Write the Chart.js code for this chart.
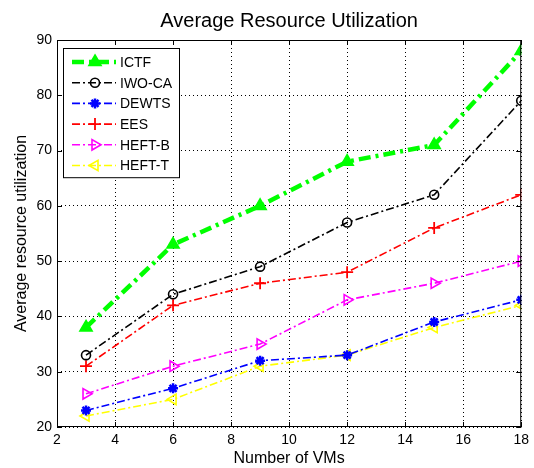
<!DOCTYPE html>
<html>
<head>
<meta charset="utf-8">
<script src="https://cdn.jsdelivr.net/npm/chart.js@4/dist/chart.umd.min.js"></script>
<style>
  html, body { margin: 0; padding: 0; background: #fff; }
  #wrap { width: 534px; height: 468px; }
</style>
</head>
<body>
<div id="wrap"><canvas id="chart" width="534" height="468"></canvas></div>
<script>
const vms = [3, 6, 9, 12, 15, 18];
const xTicks = [2, 4, 6, 8, 10, 12, 14, 16, 18];
const yTicks = [20, 30, 40, 50, 60, 70, 80, 90];

const ictf  = [38, 53, 60, 68, 71, 88];
const iwoca = [33, 44, 49, 57, 62, 79];
const dewts = [23, 27, 32, 33, 39, 43];
const ees   = [31, 42, 46, 48, 56, 62];
const heftB = [26, 31, 35, 43, 46, 50];
const heftT = [22, 25, 31, 33, 38, 42];

const FONT = 'Liberation Sans, Arial, sans-serif';

function series(label, values, color, style) {
  return Object.assign({
    label: label,
    data: values.map((v, i) => ({ x: vms[i], y: v })),
    borderColor: color,
    backgroundColor: 'transparent',
    pointBorderColor: color,
    pointBackgroundColor: 'transparent',
    borderWidth: 1.6,
    borderDash: [8, 3, 2, 3],
    pointRadius: 5,
    pointBorderWidth: 1.6,
    tension: 0,
    fill: false
  }, style);
}

const datasets = [
  series('ICTF', ictf, '#00ff00', { borderWidth: 4.5, borderDash: [12, 5, 3, 5], pointStyle: 'triangle', pointRadius: 7, pointBackgroundColor: '#00ff00' }),
  series('IWO-CA', iwoca, '#000000', { pointStyle: 'circle', pointRadius: 4.5 }),
  series('DEWTS', dewts, '#0000ff', { pointStyle: 'star', pointRadius: 5, pointBorderWidth: 2.5 }),
  series('EES', ees, '#ff0000', { pointStyle: 'cross', pointRadius: 6, pointBorderWidth: 1.8 }),
  series('HEFT-B', heftB, '#ff00ff', { pointStyle: 'triangle', rotation: 90, pointRadius: 6 }),
  series('HEFT-T', heftT, '#ffff00', { pointStyle: 'triangle', rotation: -90, pointRadius: 6 })
];

// frame, inner tick marks and line+marker legend, drawn the MATLAB way
const matlabFrame = {
  id: 'matlabFrame',
  afterDatasetsDraw(chart) {
    const ctx = chart.ctx;
    const a = chart.chartArea;
    const xs = chart.scales.x, ys = chart.scales.y;
    ctx.save();
    ctx.strokeStyle = '#000';
    ctx.lineWidth = 1;
    ctx.setLineDash([]);
    ctx.strokeRect(a.left + 0.5, a.top + 0.5, a.right - a.left - 1, a.bottom - a.top - 1);
    ctx.beginPath();
    xTicks.forEach(t => {
      const px = Math.round(xs.getPixelForValue(t)) + 0.5;
      ctx.moveTo(px, a.bottom); ctx.lineTo(px, a.bottom - 5);
      ctx.moveTo(px, a.top); ctx.lineTo(px, a.top + 5);
    });
    yTicks.forEach(t => {
      const py = Math.round(ys.getPixelForValue(t)) + 0.5;
      ctx.moveTo(a.left, py); ctx.lineTo(a.left + 5, py);
      ctx.moveTo(a.right, py); ctx.lineTo(a.right - 5, py);
    });
    ctx.stroke();

    // legend
    const lx = 63, ly = 48, lw = 116, rowH = 20.7;
    const rows = chart.data.datasets;
    const lh = rows.length * rowH + 5;
    ctx.fillStyle = '#fff';
    ctx.fillRect(lx, ly, lw, lh);
    ctx.strokeRect(lx + 0.5, ly + 0.5, lw, lh);
    ctx.font = '14px ' + FONT;
    ctx.textBaseline = 'middle';
    rows.forEach((ds, i) => {
      const y = ly + 14 + i * rowH;
      ctx.strokeStyle = ds.borderColor;
      ctx.lineWidth = ds.borderWidth;
      ctx.setLineDash(ds.borderDash);
      ctx.beginPath();
      ctx.moveTo(72, y); ctx.lineTo(116, y);
      ctx.stroke();
      ctx.setLineDash([]);
      ctx.lineWidth = ds.pointBorderWidth;
      ctx.fillStyle = ds.pointBackgroundColor;
      Chart.helpers.drawPoint(ctx, {
        pointStyle: ds.pointStyle,
        rotation: ds.rotation || 0,
        radius: ds.pointRadius,
        borderWidth: ds.pointBorderWidth
      }, 95, y);
      ctx.fillStyle = '#000';
      ctx.fillText(ds.label, 120, y + 1);
    });
    ctx.restore();
  }
};

new Chart(document.getElementById('chart'), {
  type: 'line',
  data: { datasets: datasets },
  plugins: [matlabFrame],
  options: {
    responsive: false,
    animation: false,
    layout: { padding: { left: 12, right: 5, top: 0, bottom: 0 } },
    plugins: {
      legend: { display: false },
      tooltip: { enabled: false },
      title: {
        display: true,
        fullSize: false,
        text: 'Average Resource Utilization',
        color: '#000',
        font: { family: FONT, size: 20, weight: 'normal' },
        padding: { top: 9, bottom: 7 }
      }
    },
    scales: {
      x: {
        type: 'linear',
        min: 2, max: 18,
        afterBuildTicks: s => { s.ticks = xTicks.map(v => ({ value: v })); },
        afterFit: s => { s.height = 41; },
        grid: { color: '#000', lineWidth: 1, drawTicks: false },
        border: { display: false, dash: [1, 3] },
        ticks: { color: '#000', padding: 5, font: { family: FONT, size: 14 }, maxRotation: 0 },
        title: { display: true, text: 'Number of VMs', color: '#000', padding: { top: 0, bottom: 0 }, font: { family: FONT, size: 16 } }
      },
      y: {
        type: 'linear',
        min: 20, max: 90,
        afterBuildTicks: s => { s.ticks = yTicks.map(v => ({ value: v })); },
        afterFit: s => { s.width = 45; },
        grid: { color: '#000', lineWidth: 1, drawTicks: false },
        border: { display: false, dash: [1, 3] },
        ticks: { color: '#000', padding: 5, font: { family: FONT, size: 14 } },
        title: { display: true, text: 'Average resource utilization', color: '#000', padding: { top: 0, bottom: 0 }, font: { family: FONT, size: 16 } }
      }
    }
  }
});
</script>
</body>
</html>
